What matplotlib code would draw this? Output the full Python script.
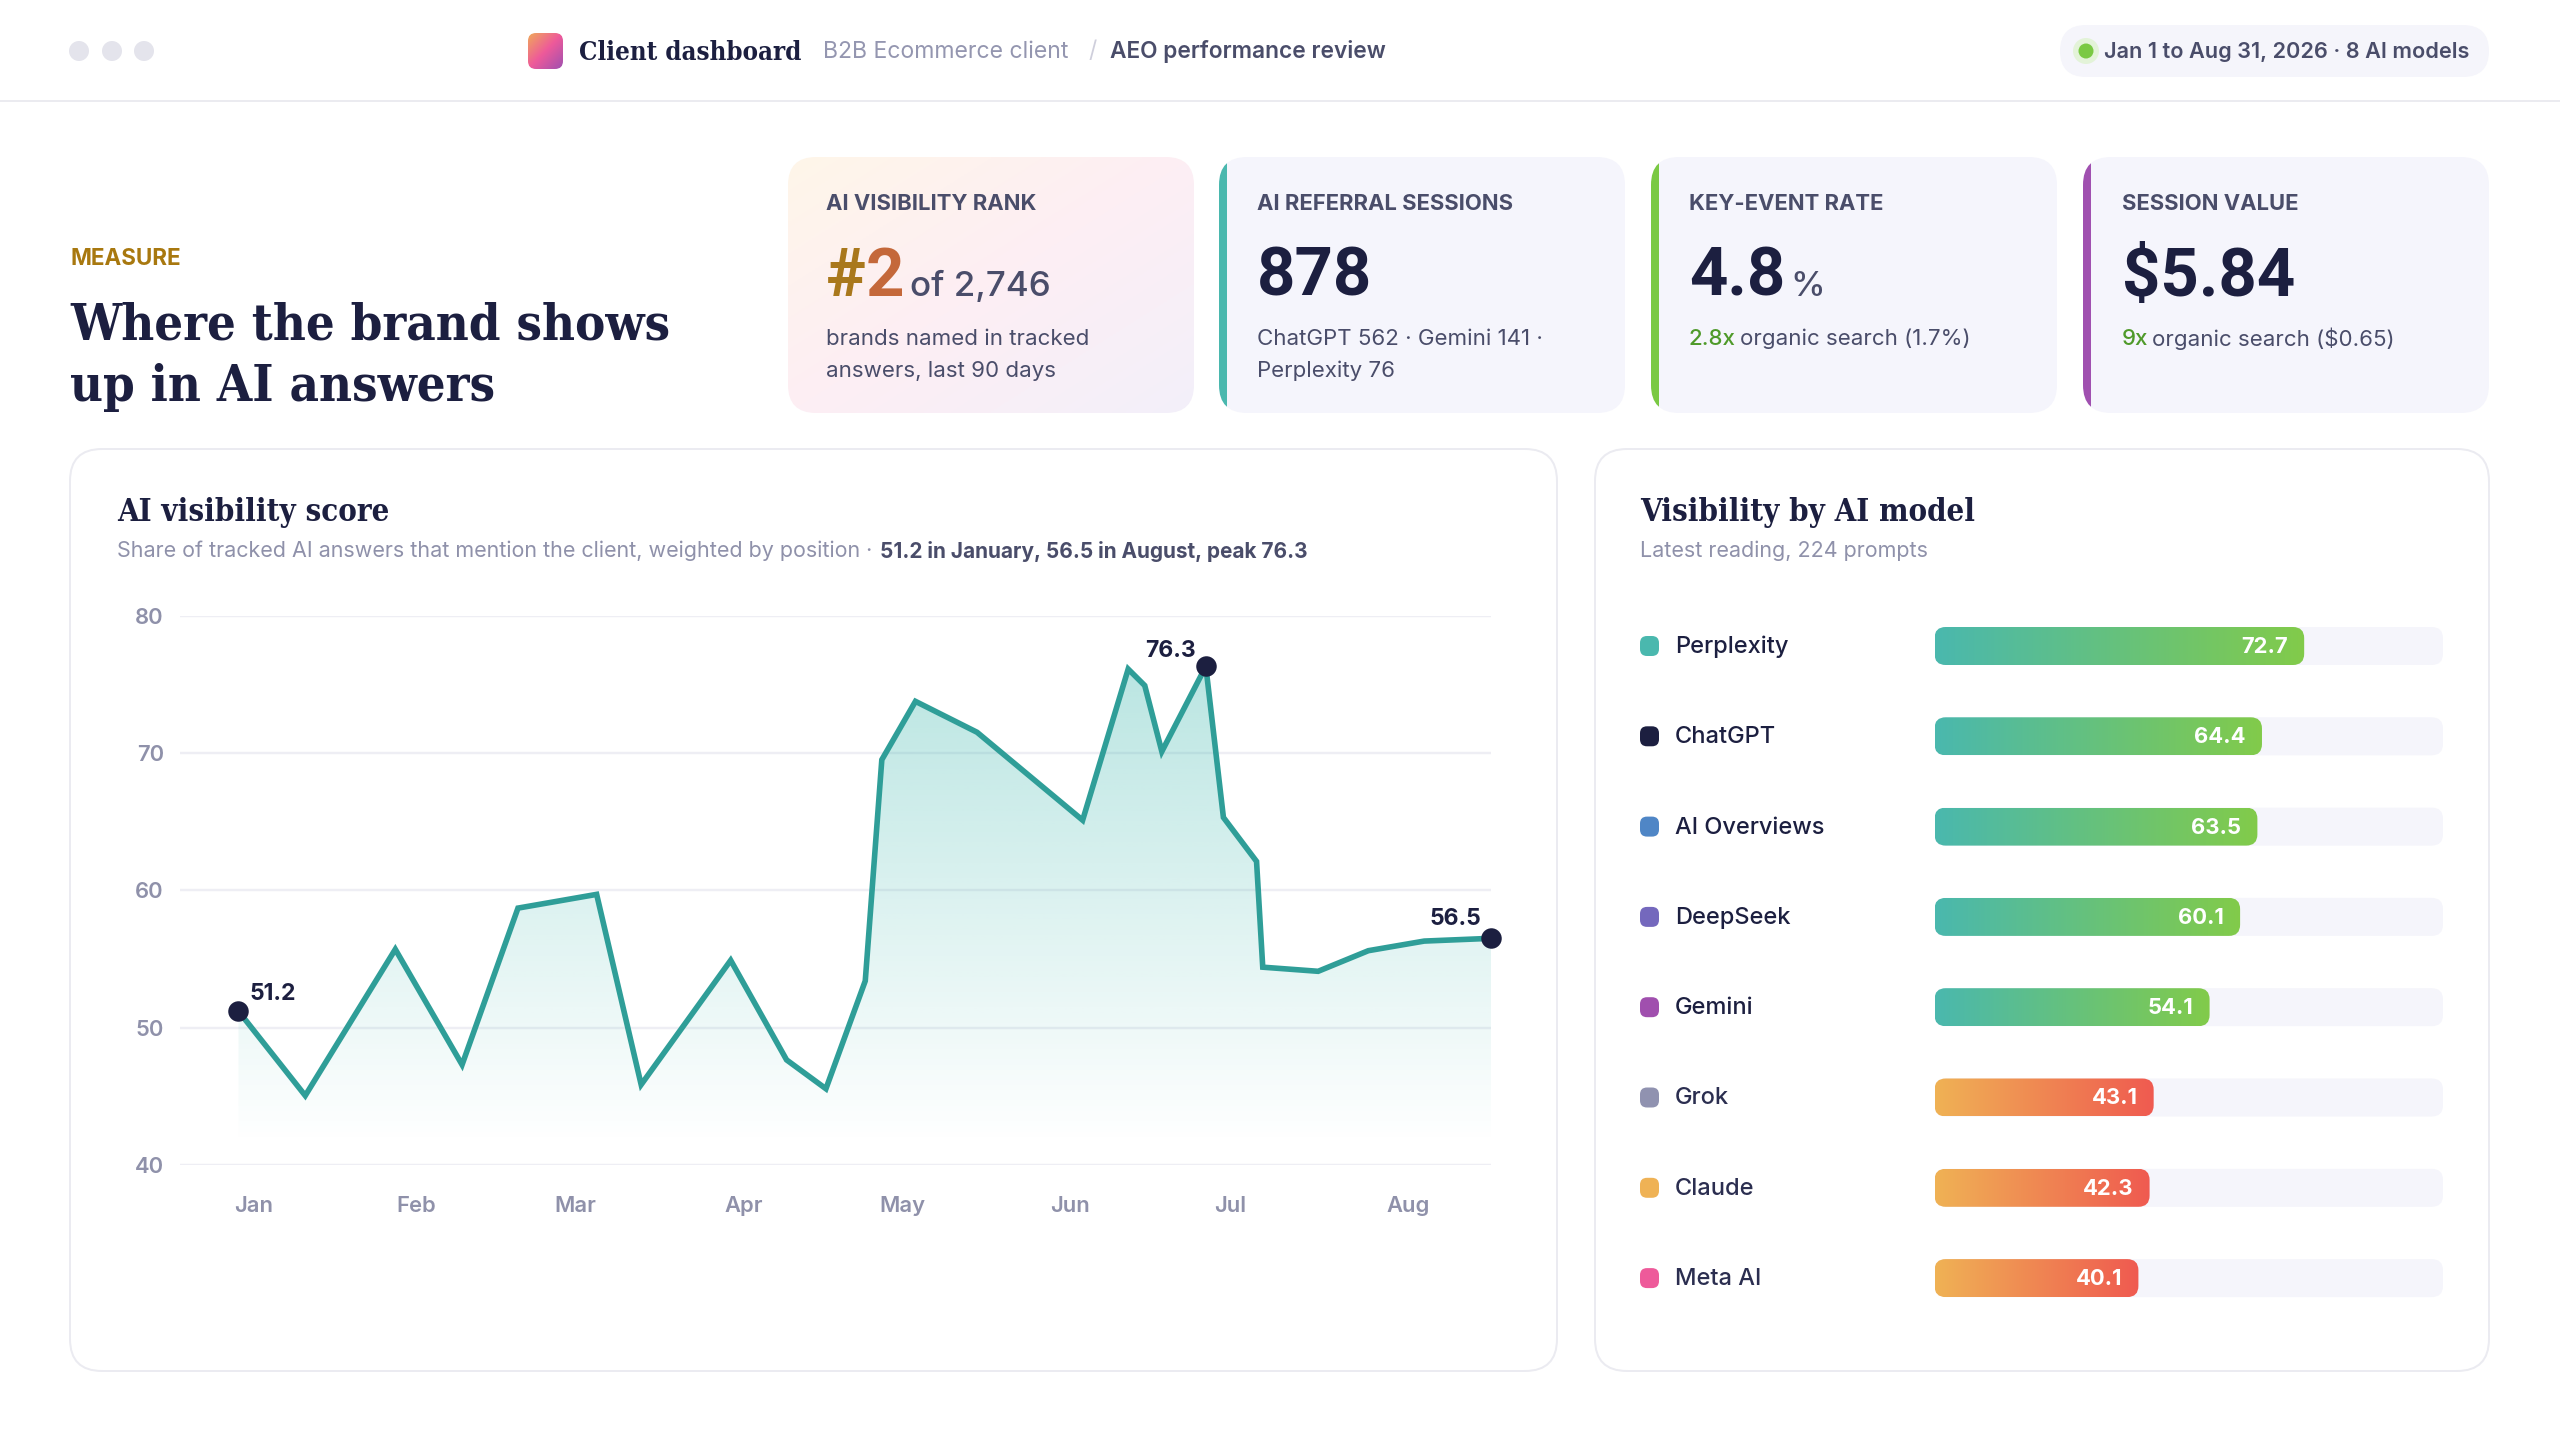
import numpy as np
import matplotlib
matplotlib.use("Agg")
import matplotlib.pyplot as plt
from matplotlib.colors import LinearSegmentedColormap, to_rgb
from matplotlib.patches import FancyBboxPatch, Circle, Rectangle

# line chart values, x is day of the period
score_days = [0, 12.9, 30.3, 43.2, 54, 69.2, 77.8, 95.1, 105.9, 113.5, 121.1, 124.3, 130.8,
              142.7, 163.1, 171.9, 175.1, 178.4, 186.9, 190.3, 196.7, 197.9, 208.6, 218.3, 229.1, 242]
score_vals = [51.2, 45.05, 55.7, 47.3, 58.7, 59.7, 45.85, 54.9, 47.65, 45.55, 53.4, 69.5, 73.75,
              71.5, 65.1, 76.1, 74.9, 70.1, 76.3, 65.3, 62.1, 54.4, 54.1, 55.6, 56.3, 56.5]
month_days = [3, 34.3, 65, 97.6, 128.3, 160.7, 191.7, 226]
month_names = ["Jan", "Feb", "Mar", "Apr", "May", "Jun", "Jul", "Aug"]
y_ticks = [40, 50, 60, 70, 80]

# bars
models = ["Perplexity", "ChatGPT", "AI Overviews", "DeepSeek", "Gemini", "Grok", "Claude", "Meta AI"]
model_vals = [72.7, 64.4, 63.5, 60.1, 54.1, 43.1, 42.3, 40.1]
model_colors = ["#4ab8ae", "#1c1f40", "#4f86c6", "#7468bd", "#a04fae", "#9092b0", "#efb255", "#ee5a9a"]

NAVY = "#1c1f40"
SLATE = "#4a4d6a"
GRAY = "#8f91aa"
SANS = "Inter"
NUM = "Roboto"
SERIF = "DejaVu Serif"

W, H = 2560, 1430
fig = plt.figure(figsize=(W / 100, H / 100), dpi=100, facecolor="white")
px = fig.add_axes([0, 0, 1, 1])
px.axis("off")


def pt(size):
    return size * 0.72


def txt(x, y, s, size, color=NAVY, weight="normal", family=SANS, va="center", ha="left"):
    if va == "center":
        y += 2
    return px.text(x, y, s, fontsize=pt(size), color=color, fontweight=weight, family=family, va=va, ha=ha,
                   fontstretch="condensed" if family == SERIF else "normal")


def rbox(x0, y0, x1, y1, r, **kw):
    p = FancyBboxPatch((x0, y0), x1 - x0, y1 - y0, boxstyle=f"round,pad=0,rounding_size={r}", **kw)
    px.add_patch(p)
    return p


def axes_at(x0, y0, x1, y1):
    return fig.add_axes([x0 / W, 1 - y1 / H, (x1 - x0) / W, (y1 - y0) / H])


# header
for cx in [79, 112, 144]:
    px.add_patch(Circle((cx, 51), 10, fc="#e4e4ec", ec="none"))
px.plot([0, W], [101, 101], color="#ebebf0", lw=pt(2))

logo = rbox(528, 33, 563, 69, 8, fc="none", ec="none")
logo_cmap = LinearSegmentedColormap.from_list("logo", ["#f0a85a", "#ee5a9a", "#a050b0"])
gx, gy = np.meshgrid(np.linspace(0, 1, 60), np.linspace(0, 1, 60))
im = px.imshow((gx + gy) / 2, cmap=logo_cmap, extent=(528, 563, 69, 33), aspect="auto", zorder=2)
im.set_clip_path(logo)

txt(579, 50, "Client dashboard", 25.7, NAVY, "bold", SERIF)
txt(823, 49.5, "B2B Ecommerce client", 23, "#9496b0")
txt(1088, 49.5, "/", 23, "#cfcfdc")
txt(1110, 49.5, "AEO performance review", 22.7, SLATE, "semibold")

rbox(2060, 25, 2489, 77, 26, fc="#f5f5fb", ec="none")
px.add_patch(Circle((2086, 51), 13, fc="#e3f3d8", ec="none"))
px.add_patch(Circle((2086, 51), 7.5, fc="#7ac943", ec="none"))
txt(2104, 49.5, "Jan 1 to Aug 31, 2026 · 8 AI models", 21.7, SLATE, "semibold")

# title
txt(70, 257, "MEASURE", 22.4, "#a8780f", "bold")
txt(70, 339, "Where the brand shows", 50.6, NAVY, "bold", SERIF, va="baseline")
txt(70, 401, "up in AI answers", 50.6, NAVY, "bold", SERIF, va="baseline")

# KPI cards
cards = [(788, 1194, None), (1219, 1625, "#4ab8ae"), (1651, 2057, "#7ac943"), (2083, 2489, "#a050b0")]
for x0, x1, accent in cards:
    if accent is None:
        c = rbox(x0, 157, x1, 413, 28, fc="none", ec="none")
        c1 = np.array(to_rgb("#fff6e9"))
        c2 = np.array(to_rgb("#fdeef4"))
        c3 = np.array(to_rgb("#f3f0fa"))
        gx, gy = np.meshgrid(np.linspace(0, 1, 120), np.linspace(0, 1, 120))
        t = ((gx + gy) / 2)[..., None]
        rgb = np.where(t < 0.5, c1 + (c2 - c1) * t * 2, c2 + (c3 - c2) * (t - 0.5) * 2)
        im = px.imshow(rgb, extent=(x0, x1, 413, 157), aspect="auto", zorder=1)
        im.set_clip_path(c)
    else:
        c = rbox(x0, 157, x1, 413, 28, fc="#f5f5fc", ec="none")
        bar = Rectangle((x0, 157), 8, 256, fc=accent, ec="none")
        px.add_patch(bar)
        bar.set_clip_path(c)

txt(826, 201.5, "AI VISIBILITY RANK", 22, SLATE, "bold")
txt(1257, 201.5, "AI REFERRAL SESSIONS", 22, SLATE, "bold")
txt(1689, 201.5, "KEY-EVENT RATE", 22, SLATE, "bold")
txt(2122, 201.5, "SESSION VALUE", 22, SLATE, "bold")

txt(826, 296, "#", 67, "#a9781c", "bold", NUM, va="baseline")
txt(866, 296, "2", 67, "#c4683a", "bold", NUM, va="baseline")
txt(910, 296, "of 2,746", 35, SLATE, "medium", va="baseline")
txt(1257, 296, "878", 67, NAVY, "bold", NUM, va="baseline")
txt(1689, 296, "4.8", 67, NAVY, "bold", NUM, va="baseline")
txt(1790, 296, "%", 35, SLATE, "medium", va="baseline")
txt(2122, 296, "$5.84", 67, NAVY, "bold", NUM, va="baseline")

txt(826, 337, "brands named in tracked", 22.3, SLATE)
txt(826, 369, "answers, last 90 days", 22.3, SLATE)
txt(1257, 337, "ChatGPT 562 · Gemini 141 ·", 22.3, SLATE)
txt(1257, 369, "Perplexity 76", 22.3, SLATE)
txt(1689, 337, "2.8x", 22.3, "#4f9a2a", "medium")
txt(1740, 337, "organic search (1.7%)", 22.3, SLATE)
txt(2122, 337, "9x", 22.3, "#4f9a2a", "medium")
txt(2152, 337, "organic search ($0.65)", 22.3, SLATE)

# panels
rbox(70, 449, 1557, 1371, 32, fc="white", ec="#ebebf1", lw=pt(2))
rbox(1595, 449, 2489, 1371, 32, fc="white", ec="#ebebf1", lw=pt(2))
txt(117, 510, "AI visibility score", 31, NAVY, "bold", SERIF)
txt(117, 549, "Share of tracked AI answers that mention the client, weighted by position ·", 21.5, GRAY)
txt(880, 549, "51.2 in January, 56.5 in August, peak 76.3", 20.8, SLATE, "bold")
txt(1640, 510, "Visibility by AI model", 31, NAVY, "bold", SERIF)
txt(1640, 549, "Latest reading, 224 prompts", 21.5, GRAY)

px.set_xlim(0, W)
px.set_ylim(H, 0)

# line chart
ax = axes_at(180, 615.5, 1491, 1165)
ax.patch.set_alpha(0)
ax.set_xlim(-11.3, 242)
ax.set_ylim(40, 80)
for s in ax.spines.values():
    s.set_visible(False)
ax.set_yticks(y_ticks)
ax.set_xticks(month_days, month_names)
ax.grid(axis="y", color="#eeeef4", lw=pt(2.4))
ax.set_axisbelow(True)
ax.tick_params(length=0, labelsize=pt(22), labelcolor=GRAY)
ax.tick_params(axis="x", pad=pt(31))
ax.tick_params(axis="y", pad=pt(16))
for lab in ax.get_xticklabels() + ax.get_yticklabels():
    lab.set_family(SANS)
    lab.set_fontweight("semibold")

poly = ax.fill_between(score_days, score_vals, 40, color="none")
teal = to_rgb("#3fb8ae")
grad = np.zeros((256, 2, 4))
grad[..., 0], grad[..., 1], grad[..., 2] = teal
grad[..., 3] = np.linspace(0.36, 0, 256)[:, None]
im = ax.imshow(grad, extent=(0, 242, 41.6, 76.3), aspect="auto", origin="upper", zorder=1)
im.set_clip_path(poly.get_paths()[0], ax.transData)
ax.set_xlim(-11.3, 242)
ax.set_ylim(40, 80)

ax.plot(score_days, score_vals, color="#2f9e98", lw=pt(5.6), solid_joinstyle="miter", zorder=3)
for i, off in [(0, (34, 17)), (18, (-35, 15)), (25, (-36, 19))]:
    ax.plot(score_days[i], score_vals[i], "o", color=NAVY, ms=pt(20.5), mew=0, clip_on=False, zorder=4)
    ax.annotate(f"{score_vals[i]}", (score_days[i], score_vals[i]), xytext=(pt(off[0]), pt(off[1])),
                textcoords="offset points", ha="center", va="center", fontsize=pt(23),
                fontweight="bold", color=NAVY, family=SANS, zorder=5)

# bars
row0, row = 646, 90.3
bx = axes_at(1934.5, row0 - row / 2, 2443, row0 + 7.5 * row)
bx.axis("off")
bx.set_xlim(0, 100)
bx.set_ylim(7.5, -0.5)
bar_h = 38 / row
aspect = (508.5 / 100) / row
good = LinearSegmentedColormap.from_list("good", ["#4ab8ae", "#82cb4a"])
bad = LinearSegmentedColormap.from_list("bad", ["#efb255", "#f05a50"])
ramp = np.linspace(0, 1, 256)[None, :]
for i, (name, val, col) in enumerate(zip(models, model_vals, model_colors)):
    bx.add_patch(FancyBboxPatch((0, i - bar_h / 2), 100, bar_h, boxstyle="round,pad=0,rounding_size=2.2",
                                mutation_aspect=aspect, fc="#f5f5fb", ec="none", zorder=1))
    b = FancyBboxPatch((0, i - bar_h / 2), val, bar_h, boxstyle="round,pad=0,rounding_size=2.2",
                       mutation_aspect=aspect, fc="none", ec="none", zorder=2)
    bx.add_patch(b)
    im = bx.imshow(ramp, cmap=good if val > 50 else bad, extent=(0, val, i + bar_h / 2, i - bar_h / 2),
                   aspect="auto", zorder=2)
    im.set_clip_path(b)
    bx.annotate(f"{val}", (val, i), xytext=(pt(-16), pt(-1)), textcoords="offset points", ha="right",
                va="center", color="white", fontsize=pt(22), fontweight="bold", family=SANS, zorder=3)
    y = row0 + i * row
    rbox(1640, y - 10, 1659, y + 10, 7, fc=col, ec="none", zorder=3)
    txt(1675, y - 1, name, 23.6, NAVY if i < 5 else "#2b2e50", "medium")
bx.set_xlim(0, 100)
bx.set_ylim(7.5, -0.5)

fig.savefig("out.png", dpi=100)
